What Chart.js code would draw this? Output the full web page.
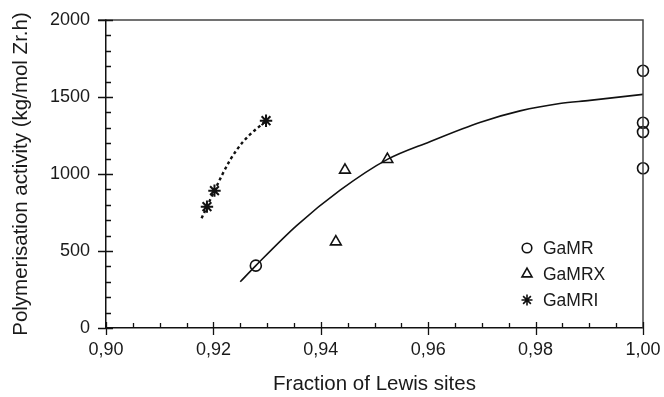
<!DOCTYPE html>
<html>
<head>
<meta charset="utf-8">
<script src="https://cdn.jsdelivr.net/npm/chart.js@4/dist/chart.umd.min.js"></script>
<style>
  html, body { margin: 0; padding: 0; background: #fff; }
  #wrap { width: 664px; height: 397px; }
</style>
</head>
<body>
<div id="wrap"><canvas id="grafico" width="664" height="397"></canvas></div>
<script>
// valores
const lewisGaMR = [0.9279, 1.0, 1.0, 1.0, 1.0];
const activityGaMR = [405, 1670, 1333, 1273, 1037];

const lewisGaMRX = [0.9428, 0.9445, 0.9524];
const activityGaMRX = [560, 1026, 1095];

const lewisGaMRI = [0.9188, 0.9202, 0.9298];
const activityGaMRI = [788, 892, 1346];

// lineas de tendencia
const lewisFit = [0.925, 0.9279, 0.9355, 0.9436, 0.9524, 0.9603, 0.9696, 0.9771, 0.9845, 0.9901, 1.0];
const activityFit = [300, 405, 665, 895, 1095, 1210, 1335, 1410, 1458, 1478, 1517];

const lewisFitI = [0.9178, 0.9188, 0.9202, 0.9231, 0.9256, 0.9298];
const activityFitI = [712, 788, 892, 1090, 1212, 1346];

const xTicks = [0.9, 0.92, 0.94, 0.96, 0.98, 1.0];
const yTicks = [0, 500, 1000, 1500, 2000];

function pares(xs, ys) {
  return xs.map((x, i) => ({ x: x, y: ys[i] }));
}

const negro = "#111";
const texto = "#1a1a1a";
const fuente = "'Liberation Sans', Arial, sans-serif";

// ticks cruzados, bordes y leyenda
const marcoPlugin = {
  id: "marco",
  afterDraw(chart) {
    const ctx = chart.ctx;
    const a = chart.chartArea;
    const sx = chart.scales.x;
    const sy = chart.scales.y;
    ctx.save();
    ctx.strokeStyle = "#444";
    ctx.lineWidth = 1.5;
    ctx.beginPath();
    ctx.moveTo(a.left - 8, a.top);
    ctx.lineTo(a.right, a.top);
    ctx.lineTo(a.right, a.bottom);
    ctx.stroke();

    ctx.strokeStyle = negro;
    ctx.lineWidth = 1.3;
    ctx.beginPath();
    for (let v = 0.9; v <= 1.0001; v += 0.005) {
      const px = Math.round(sx.getPixelForValue(v)) + 0.5;
      const mayor = Math.abs(Math.round(v * 50) - v * 50) < 1e-6;
      ctx.moveTo(px, a.bottom - (mayor ? 6 : 5));
      ctx.lineTo(px, mayor ? a.bottom + 7 : a.bottom);
    }
    for (let v = 0; v <= 2000; v += 100) {
      const py = Math.round(sy.getPixelForValue(v)) + 0.5;
      const mayor = v % 500 === 0;
      ctx.moveTo(mayor ? a.left - 8 : a.left, py);
      ctx.lineTo(a.left + (mayor ? 7 : 5), py);
    }
    ctx.stroke();

    // leyenda
    const items = chart.data.datasets.filter((d) => d.enLeyenda);
    items.forEach((d, i) => {
      const x = a.right - 116;
      const y = a.bottom - 80 + i * 26;
      ctx.strokeStyle = negro;
      ctx.fillStyle = "#fff";
      ctx.lineWidth = 1.6;
      Chart.helpers.drawPoint(ctx, {
        pointStyle: d.pointStyle,
        radius: d.leyendaRadio,
        rotation: 0,
        borderWidth: 1.6,
      }, x, y);
      ctx.fillStyle = texto;
      ctx.font = "17.5px " + fuente;
      ctx.textBaseline = "middle";
      ctx.textAlign = "left";
      ctx.fillText(d.label, x + 16, y + 1);
    });
    ctx.restore();
  },
};

const config = {
  type: "scatter",
  data: {
    datasets: [
      {
        label: "ajuste",
        data: pares(lewisFit, activityFit),
        showLine: true,
        borderColor: negro,
        borderWidth: 1.6,
        cubicInterpolationMode: "monotone",
        pointRadius: 0,
        clip: false,
      },
      {
        label: "ajusteI",
        data: pares(lewisFitI, activityFitI),
        showLine: true,
        borderColor: negro,
        borderWidth: 2.4,
        borderDash: [3, 3],
        cubicInterpolationMode: "monotone",
        pointRadius: 0,
        clip: false,
      },
      {
        label: "GaMR",
        enLeyenda: true,
        leyendaRadio: 4.8,
        data: pares(lewisGaMR, activityGaMR),
        pointStyle: "circle",
        pointRadius: 5.5,
        borderColor: negro,
        backgroundColor: "rgba(255,255,255,0)",
        borderWidth: 1.6,
        clip: false,
      },
      {
        label: "GaMRX",
        enLeyenda: true,
        leyendaRadio: 5.8,
        data: pares(lewisGaMRX, activityGaMRX),
        pointStyle: "triangle",
        pointRadius: 6.2,
        borderColor: negro,
        backgroundColor: "rgba(255,255,255,0)",
        borderWidth: 1.6,
        clip: false,
      },
      {
        label: "GaMRI",
        enLeyenda: true,
        leyendaRadio: 5.5,
        data: pares(lewisGaMRI, activityGaMRI),
        pointStyle: "star",
        pointRadius: 6.2,
        borderColor: negro,
        backgroundColor: "#fff",
        borderWidth: 2,
        clip: false,
      },
    ],
  },
  options: {
    responsive: false,
    animation: false,
    events: [],
    layout: { padding: { top: 20, right: 21, left: 0, bottom: 0 } },
    plugins: { legend: { display: false }, tooltip: { enabled: false } },
    scales: {
      x: {
        type: "linear",
        min: 0.9,
        max: 1.0,
        afterBuildTicks: (s) => { s.ticks = xTicks.map((v) => ({ value: v })); },
        afterFit: (s) => {
          s.height = 69;
          s.paddingLeft = 0;
          s.paddingRight = 0;
        },
        grid: { display: false, drawTicks: false },
        border: { display: true, color: negro, width: 1.5 },
        ticks: {
          padding: 11,
          color: texto,
          font: { family: fuente, size: 18 },
          callback: (v) => v.toFixed(2).replace(".", ","),
        },
        title: {
          display: true,
          text: "Fraction of Lewis sites",
          color: texto,
          font: { family: fuente, size: 20.5 },
          padding: { top: 0, bottom: 0 },
        },
      },
      y: {
        type: "linear",
        min: 0,
        max: 2000,
        afterBuildTicks: (s) => { s.ticks = yTicks.map((v) => ({ value: v })); },
        afterFit: (s) => {
          s.width = 106;
          s.paddingTop = 0;
          s.paddingBottom = 0;
        },
        grid: { display: false, drawTicks: false },
        border: { display: true, color: negro, width: 1.5 },
        ticks: {
          padding: 16,
          color: texto,
          font: { family: fuente, size: 18 },
          callback: (v) => String(v),
        },
        title: {
          display: true,
          text: "Polymerisation activity (kg/mol Zr.h)",
          color: texto,
          font: { family: fuente, size: 20.5 },
          padding: { top: 9, bottom: 0 },
        },
      },
    },
  },
  plugins: [marcoPlugin],
};

new Chart(document.getElementById("grafico"), config);
</script>
</body>
</html>
